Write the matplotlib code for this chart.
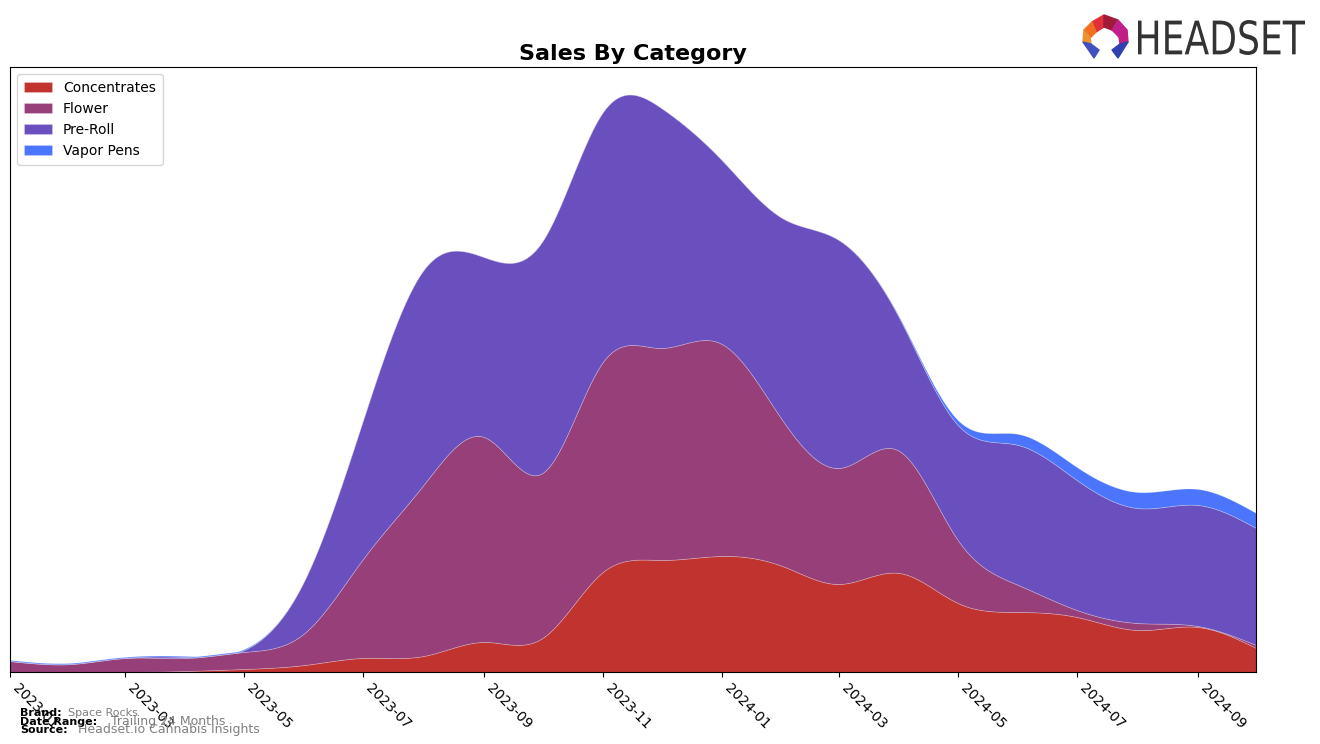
import numpy as np
import pandas as pd
import matplotlib
matplotlib.use("Agg")
import matplotlib.pyplot as plt
import matplotlib.dates as mdates
from matplotlib.patches import Polygon, PathPatch
from matplotlib.textpath import TextPath
from matplotlib.path import Path
from matplotlib.font_manager import FontProperties

months = pd.date_range("2023-01-01", "2024-10-01", freq="MS")

# monthly values per category (relative sales units)
concentrates = [0, 0, 0, 1, 3, 7, 14, 16, 30, 34, 100, 112,
                116, 106, 88, 99, 69, 60, 55, 42, 45, 24]
flower = [11, 8, 14, 13, 17, 32, 99, 171, 205, 165, 210, 212,
          212, 146, 116, 122, 63, 27, 7, 7, 1, 3]
pre_roll = [0, 0, 0, 1, 2, 53, 139, 215, 180, 232, 250, 240,
            184, 202, 228, 133, 115, 140, 130, 115, 121, 117]
vapor_pens = [1, 1, 1, 1, 1, 0, 0, 0, 0, 0, 0, 0,
              0, 0, 0, 1, 5, 11, 13, 16, 16, 15]

labels = ["Concentrates", "Flower", "Pre-Roll", "Vapor Pens"]
colors = ["#c0332f", "#963f78", "#6a4fbe", "#4a75fc"]


def natural_spline(x, y, xs):
    # plain natural cubic spline, only for drawing smooth curves
    x = np.asarray(x, float)
    y = np.asarray(y, float)
    n = len(x)
    h = np.diff(x)
    A = np.zeros((n, n))
    b = np.zeros(n)
    A[0, 0] = A[-1, -1] = 1
    for i in range(1, n - 1):
        A[i, i - 1] = h[i - 1]
        A[i, i] = 2 * (h[i - 1] + h[i])
        A[i, i + 1] = h[i]
        b[i] = 3 * ((y[i + 1] - y[i]) / h[i] - (y[i] - y[i - 1]) / h[i - 1])
    c = np.linalg.solve(A, b)
    idx = np.clip(np.searchsorted(x, xs) - 1, 0, n - 2)
    dx = xs - x[idx]
    bb = (y[idx + 1] - y[idx]) / h[idx] - h[idx] * (2 * c[idx] + c[idx + 1]) / 3
    d = (c[idx + 1] - c[idx]) / (3 * h[idx])
    return y[idx] + bb * dx + c[idx] * dx ** 2 + d * dx ** 3


xm = mdates.date2num(months)
xs = np.linspace(xm[0], xm[-1], 1500)
series = [concentrates, flower, pre_roll, vapor_pens]
smooth = [np.clip(natural_spline(xm, s, xs), 0, None) for s in series]

fig = plt.figure(figsize=(13.2, 7.44), dpi=100)
ax = fig.add_axes([0.0076, 0.0968, 0.944, 0.8132])
ax.stackplot(xs, *smooth, labels=labels, colors=colors, edgecolor="#ffffff40", linewidth=0.6)

ax.set_xlim(xm[0], xm[-1])
ax.set_ylim(0, 605)
ax.set_yticks([])
ax.xaxis.set_major_locator(mdates.MonthLocator(bymonth=[1, 3, 5, 7, 9, 11]))
ax.xaxis.set_major_formatter(mdates.DateFormatter("%Y-%m"))
plt.setp(ax.get_xticklabels(), rotation=-45, ha="left", fontsize=10)
ax.set_title("Sales By Category", fontsize=16, fontweight="bold", pad=5)

ax.legend(loc="upper left", fontsize=10, handlelength=2, borderpad=0.5)

# footer
fig.text(0.0152, 0.037, "Brand:", fontsize=8, fontweight="bold")
fig.text(0.0515, 0.037, "Space Rocks", fontsize=8, color="gray")
fig.text(0.0152, 0.026, "Date Range:", fontsize=8, fontweight="bold")
fig.text(0.084, 0.026, "Trailing 24 Months", fontsize=9, color="gray")
fig.text(0.0152, 0.015, "Source:", fontsize=8, fontweight="bold")
fig.text(0.059, 0.015, "Headset.io Cannabis Insights", fontsize=9, color="gray")


def px(x, y):
    return (x / 1320, 1 - y / 744)


# logo word, squeezed into the box it takes in the reference
tp = TextPath((0, 0), "HEADSET", size=1, prop=FontProperties(family="DejaVu Sans"))
ext = tp.get_extents()
v = tp.vertices.copy()
v[:, 0] = (1138 + (v[:, 0] - ext.x0) / ext.width * 167) / 1320
v[:, 1] = (744 - 55 + (v[:, 1] - ext.y0) / ext.height * 35) / 744
fig.patches.append(PathPatch(Path(v, tp.codes), facecolor="#333333", lw=0,
                             transform=fig.transFigure, figure=fig))

logo_parts = [
    ([(1092, 22), (1104, 15), (1104, 27), (1096, 32)], "#e0303a"),
    ([(1104, 15), (1118, 20), (1112, 30), (1104, 27)], "#a01a3a"),
    ([(1118, 20), (1127, 30), (1119, 37), (1112, 30)], "#c0208a"),
    ([(1127, 30), (1128, 42), (1120, 44), (1119, 37)], "#c02080"),
    ([(1084, 30), (1092, 22), (1096, 32), (1090, 38)], "#f07020"),
    ([(1084, 30), (1090, 38), (1091, 44), (1083, 42)], "#f09030"),
    ([(1083, 42), (1091, 44), (1099, 50), (1094, 58)], "#4050c0"),
    ([(1128, 42), (1120, 44), (1112, 50), (1118, 58)], "#3040b0"),
]
for pts, col in logo_parts:
    fig.patches.append(Polygon([px(*p) for p in pts], closed=True, color=col,
                               transform=fig.transFigure, figure=fig))

fig.savefig("out.png", dpi=100)
